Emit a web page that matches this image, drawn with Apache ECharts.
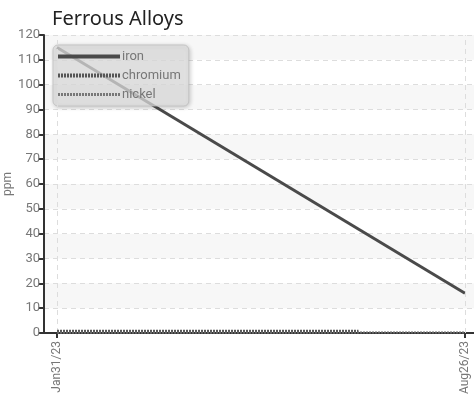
<!DOCTYPE html>
<html><head><meta charset="utf-8">
<script src="https://cdn.jsdelivr.net/npm/echarts@6/dist/echarts.min.js"></script>
<style>html,body{margin:0;padding:0;background:#fff}#c{width:474px;height:401px}</style>
</head><body><div id="c"></div>
<script>
var title = 'Ferrous Alloys';
var yName = 'ppm';
var dates = ['2023-01-31', '2023-08-26'];
var tickLabels = ['Jan31/23', 'Aug26/23'];
var ironDates = ['2023-01-31', '2023-08-26'];
var ironValues = [115, 16];
var chromiumDates = ['2023-01-31', '2023-07-03'];
var chromiumValues = [0.5, 0.5];
var nickelDates = ['2023-01-31', '2023-08-26'];
var nickelValues = [0.2, 0.2];

function ts(d){ return new Date(d + 'T00:00:00Z').getTime(); }
function pairs(ds, vs){ return ds.map(function(d,i){ return [ts(d), vs[i]]; }); }
var tickTs = dates.map(ts);
var DAY = 86400000;
var F = "'Roboto',sans-serif";

var chart = echarts.init(document.getElementById('c'), null, {renderer:'canvas'});
chart.setOption({
  animation:false,
  backgroundColor:'#fff',
  title:{text:title,left:47,top:4,textStyle:{fontSize:20,fontWeight:'normal',color:'#222',fontFamily:"'Noto Sans',sans-serif"}},
  grid:{left:44,right:0,top:35,bottom:68,containLabel:false,outerBoundsMode:'none'},
  legend:{
    orient:'vertical',left:53,top:45,
    width:110,
    padding:[5,8,5,3],
    itemWidth:62,itemHeight:10,itemGap:6,
    backgroundColor:'rgba(228,228,228,0.72)',
    borderColor:'rgba(190,190,190,0.8)',borderWidth:1,borderRadius:5,
    shadowColor:'rgba(0,0,0,0.25)',shadowBlur:4,shadowOffsetX:1,shadowOffsetY:1,
    itemStyle:{opacity:0},
    textStyle:{color:'#777',fontSize:13,fontFamily:F,padding:[0,0,0,-3]},
    data:[
      {name:'iron',lineStyle:{width:4,color:'#4a4a4a'}},
      {name:'chromium',lineStyle:{width:4,color:'#555',type:[2,1]}},
      {name:'nickel',lineStyle:{width:3,color:'#777',type:[2,1]}}
    ]
  },
  xAxis:{
    type:'value',
    min:tickTs[0]-6.6*DAY,
    max:tickTs[1]+4.6*DAY,
    axisLine:{lineStyle:{color:'#333',width:2}},
    axisTick:{show:true,length:5,lineStyle:{color:'#333',width:2},customValues:tickTs},
    axisLabel:{rotate:90,margin:8,color:'#777',fontSize:12,fontFamily:F,customValues:tickTs,
      formatter:function(v){ var i=tickTs.indexOf(v); return i>=0?tickLabels[i]:''; }},
    splitLine:{show:false}
  },
  yAxis:{
    type:'value',min:0,max:120,interval:10,
    name:yName,nameLocation:'middle',nameGap:30,nameMoveOverlap:false,
    nameTextStyle:{color:'#777',fontSize:12,fontFamily:F},
    axisLine:{show:true,lineStyle:{color:'#333',width:2}},
    axisTick:{show:true,length:5,lineStyle:{color:'#333',width:2}},
    axisLabel:{margin:4,color:'#777',fontSize:13,fontFamily:F},
    splitLine:{show:true,lineStyle:{color:'#ddd',type:[5,4],width:1}},
    splitArea:{show:true,areaStyle:{color:['#ffffff','#f7f7f7']}}
  },
  series:[
    {name:'iron',type:'line',symbol:'none',data:pairs(ironDates,ironValues),
      lineStyle:{color:'#4a4a4a',width:3},itemStyle:{color:'#4a4a4a'},z:3,
      markLine:{silent:true,symbol:'none',label:{show:false},
        lineStyle:{color:'#ddd',type:[5,4],width:1},
        data:tickTs.map(function(t){return {xAxis:t};})}},
    {name:'chromium',type:'line',symbol:'none',data:pairs(chromiumDates,chromiumValues),
      lineStyle:{color:'#555',width:4,type:[2,1]},itemStyle:{color:'#555'},z:5},
    {name:'nickel',type:'line',symbol:'none',data:pairs(nickelDates,nickelValues),
      lineStyle:{color:'#666',width:2,type:[2,1]},itemStyle:{color:'#666'},z:5}
  ]
});
</script></body></html>
